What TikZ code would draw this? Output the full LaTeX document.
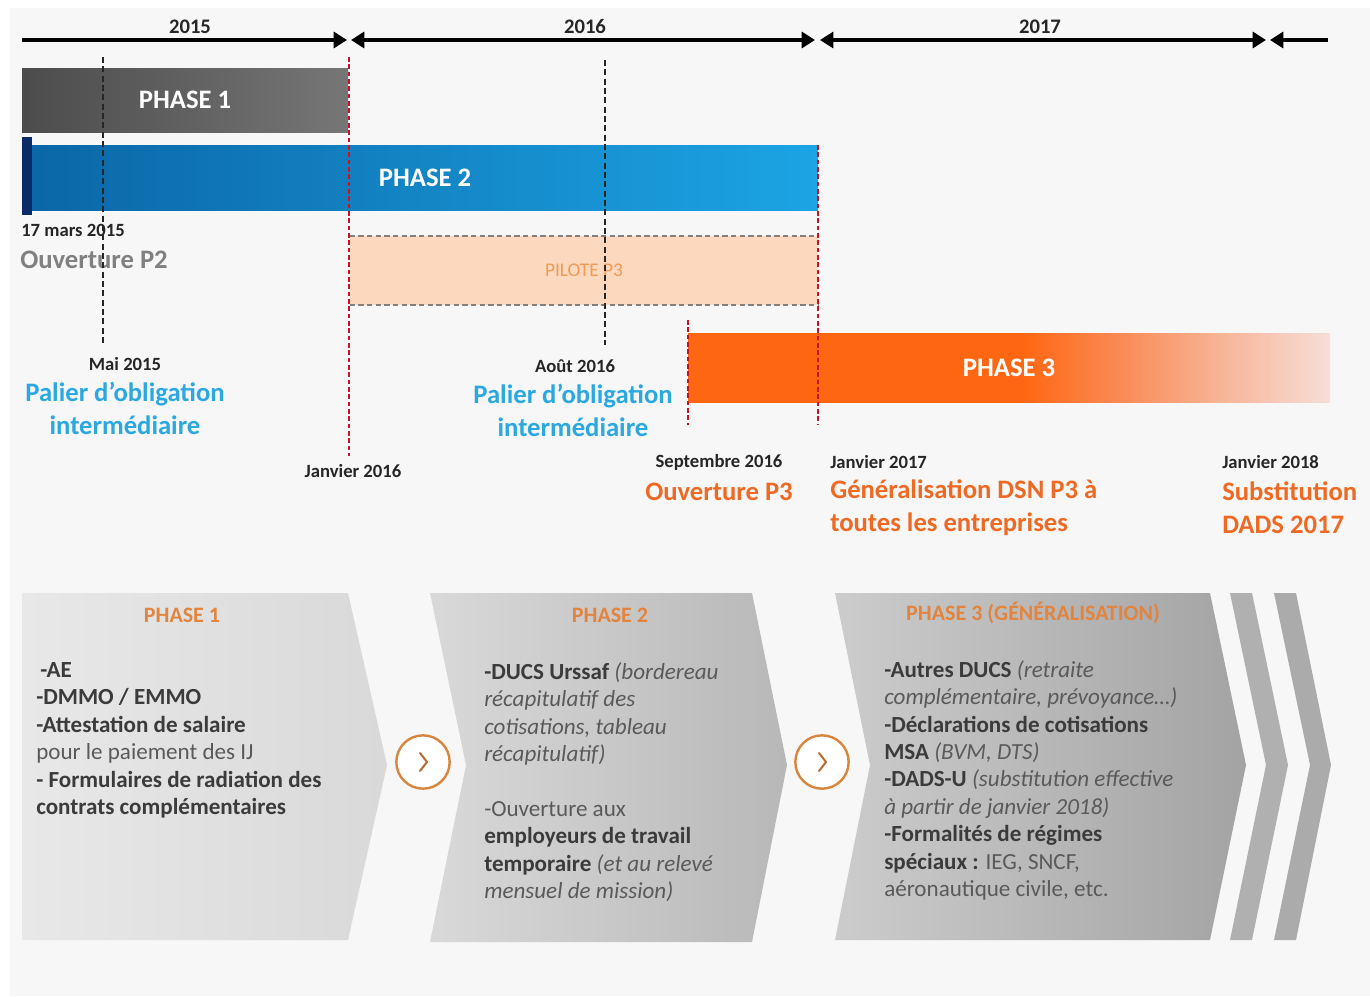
\documentclass[tikz,border=0pt]{standalone}
\usepackage{fontspec}
\setmainfont{Carlito}
\usetikzlibrary{arrows.meta}
\definecolor{bg}{HTML}{F7F7F7}
\definecolor{ph1l}{HTML}{4C4C4C}
\definecolor{ph1r}{HTML}{767676}
\definecolor{ph2l}{HTML}{0B66A6}
\definecolor{ph2r}{HTML}{1CA4E4}
\definecolor{navy}{HTML}{0A2C66}
\definecolor{ph3o}{HTML}{FF6612}
\definecolor{ph3m}{HTML}{F98C58}
\definecolor{ph3l}{HTML}{F7B79C}
\definecolor{ph3p}{HTML}{F6DED7}
\definecolor{peach}{HTML}{FCD8BE}
\definecolor{pilotc}{HTML}{F09A55}
\definecolor{dk}{HTML}{262626}
\definecolor{blu}{HTML}{2BA8E0}
\definecolor{ora}{HTML}{EE6A24}
\definecolor{gry}{HTML}{808080}
\definecolor{redd}{HTML}{C8141E}
\definecolor{ttl}{HTML}{E3843E}
\definecolor{bd}{HTML}{3B3B3B}
\definecolor{rg}{HTML}{5A5A5A}
\definecolor{circ}{HTML}{D8853E}
\definecolor{circin}{HTML}{B86A30}
\pgfdeclarehorizontalshading{phthree}{100bp}{color(0bp)=(ph3o); color(25bp)=(ph3o); color(51bp)=(ph3o); color(59bp)=(ph3m); color(67bp)=(ph3l); color(75bp)=(ph3p); color(100bp)=(ph3p)}
\tikzset{
  bar/.style={inner sep=0pt, text=white, font=\fontsize{20}{24}\selectfont\bfseries},
  date/.style={inner sep=0pt, text=dk, font=\fontsize{14}{16}\selectfont\bfseries},
  yearlbl/.style={inner sep=0pt, text=dk, font=\fontsize{15.5}{17}\selectfont\bfseries},
  big/.style={inner sep=0pt, font=\fontsize{20}{24.75}\selectfont\bfseries},
  tline/.style={line width=3.4pt, black},
  blackdash/.style={line width=1.6pt, black!85, dash pattern=on 4.5pt off 2.5pt},
  reddash/.style={line width=1.5pt, redd, dash pattern=on 3.5pt off 2pt},
  chtitle/.style={inner sep=0pt, text=ttl, font=\fontsize{16.5}{18}\selectfont\bfseries},
  body/.style={inner sep=0pt, anchor=north west, align=left, text=rg, font=\fontsize{17.3}{20.6}\selectfont},
  circbtn/.style={circle, draw=circ, line width=1.8pt, fill=white, minimum size=40pt, inner sep=0pt},
  chev/.style={line width=1.5pt, circin, line cap=round, line join=round}
}
\newcommand{\bb}[1]{\textcolor{bd}{\bfseries #1}}
\begin{document}
\begin{tikzpicture}[x=0.75pt,y=-0.75pt]
\useasboundingbox (0,0) rectangle (1370,996);
\fill[white] (0,0) rectangle (1370,996);
\fill[bg] (10,8) rectangle (1370,996);

% timeline
\coordinate (t0) at (22,40);
\coordinate (t1) at (347,40);
\coordinate (t2) at (351,40);
\coordinate (t3) at (815,40);
\coordinate (t4) at (820,40);
\coordinate (t5) at (1266,40);
\coordinate (t6) at (1270,40);
\coordinate (t7) at (1328,40);
\draw[tline, -{Triangle[width=12pt,length=10pt]}] (t0) -- (t1);
\draw[tline, {Triangle[width=12pt,length=10pt]}-{Triangle[width=12pt,length=10pt]}] (t2) -- (t3);
\draw[tline, {Triangle[width=12pt,length=10pt]}-{Triangle[width=12pt,length=10pt]}] (t4) -- (t5);
\draw[tline, {Triangle[width=12pt,length=10pt]}-] (t6) -- (t7);
\node[yearlbl] (y15) at (190,27) {2015};
\node[yearlbl] (y16) at (585,27) {2016};
\node[yearlbl] (y17) at (1040,27) {2017};

% bars
\node[bar, left color=ph1l, right color=ph1r, minimum width=244.5pt, minimum height=48pt] (ph1) at (185,100) {PHASE 1};
\node[bar, left color=ph2l, right color=ph2r, minimum width=597pt, minimum height=48.75pt] (ph2) at (420,177.5) {\hspace*{7.5pt}PHASE 2};
\node[fill=navy, inner sep=0pt, minimum width=7.5pt, minimum height=58.5pt] (nav) at (27,176) {};
\node[fill=peach, inner sep=0pt, minimum width=351pt, minimum height=51.75pt, text=pilotc, font=\fontsize{14.5}{16}\selectfont] (pil) at (584,270.5) {PILOTE P3};
\draw[line width=1.2pt, gray, dash pattern=on 4pt off 2.5pt] (pil.north west) -- (pil.north east);
\draw[line width=1.2pt, gray, dash pattern=on 4pt off 2.5pt] (pil.south west) -- (pil.south east);
\node[bar, shading=phthree, minimum width=481.5pt, minimum height=51.75pt] (ph3) at (1009,367.5) {PHASE 3};

% labels
\node[date, anchor=west] (d1) at (21,230) {17 mars 2015};
\node[big, anchor=west, text=gry] (o2) at (20,260) {Ouverture P2};
\node[date] (d2) at (125,364) {Mai 2015};
\node[big, text=blu, align=center] (pal1) at (125,408.5) {Palier d’obligation\\intermédiaire};
\node[date] (d3) at (353,471) {Janvier 2016};
\node[date] (d4) at (575,366) {Août 2016};
\node[big, text=blu, align=center] (pal2) at (573,410.5) {Palier d’obligation\\intermédiaire};
\node[date] (d5) at (719,462) {Septembre 2016};
\node[big, text=ora] (o3) at (719,492) {Ouverture P3};
\node[date, anchor=west] (d6) at (830,462) {Janvier 2017};
\node[big, text=ora, align=left, anchor=west] (gen) at (830,508) {Généralisation DSN P3 à\\toutes les entreprises};
\node[date, anchor=west] (d7) at (1222,462) {Janvier 2018};
\node[big, text=ora, align=left, anchor=west] (sub) at (1222,508) {Substitution\\DADS 2017};

% milestone lines
\coordinate (m1t) at (103,57);  \coordinate (m1b) at (103,345);
\coordinate (m2t) at (605,60);  \coordinate (m2b) at (605,345);
\coordinate (r1t) at (349,57);  \coordinate (r1b) at (349,456);
\coordinate (r2t) at (818,145); \coordinate (r2b) at (818,425);
\coordinate (r3t) at (688,320); \coordinate (r3b) at (688,425);
\draw[blackdash] (m1t) -- (m1b);
\draw[blackdash] (m2t) -- (m2b);
\draw[reddash] (r1t) -- (r1b);
\draw[reddash] (r2t) -- (r2b);
\draw[reddash] (r3t) -- (r3b);

% chevrons
\shade[left color=black!9, right color=black!15] (22,593) -- (348,593) -- (387,765) -- (348,940) -- (22,940) -- cycle;
\shade[left color=black!15, right color=black!28] (430,593) -- (752,593) -- (787,765) -- (752,942) -- (430,942) -- (466,765) -- cycle;
\shade[left color=black!20, right color=black!36] (835,593) -- (1210,593) -- (1246,765) -- (1210,940) -- (835,940) -- (870,765) -- cycle;
\fill[black!31] (1230,593) -- (1252,593) -- (1288,765) -- (1252,940) -- (1230,940) -- (1266,765) -- cycle;
\fill[black!33] (1274,593) -- (1296,593) -- (1331,765) -- (1296,940) -- (1274,940) -- (1310,765) -- cycle;

\node[circbtn] (c1) at (423,762) {};
\node[circbtn] (c2) at (822,762) {};
\draw[chev] ([shift={(-3,-9)}]c1.center) -- ([shift={(4,0)}]c1.center) -- ([shift={(-3,9)}]c1.center);
\draw[chev] ([shift={(-3,-9)}]c2.center) -- ([shift={(4,0)}]c2.center) -- ([shift={(-3,9)}]c2.center);

\node[chtitle] (h1) at (182,615) {PHASE 1};
\node[chtitle] (h2) at (610,615) {PHASE 2};
\node[chtitle] (h3) at (1033,613) {PHASE 3 (GÉNÉRALISATION)};

\node[body] (b1) at (36,662) {\hspace*{3pt}\bb{-AE}\\
\bb{-DMMO / EMMO}\\
\bb{-Attestation de salaire}\\
pour le paiement des IJ\\
\bb{- Formulaires de radiation des}\\
\bb{contrats complémentaires}};

\node[body] (b2) at (484,662) {\bb{-DUCS Urssaf} \textit{(bordereau}\\
\textit{récapitulatif des}\\
\textit{cotisations, tableau}\\
\textit{récapitulatif)}\\[20.6pt]
-Ouverture aux\\
\bb{employeurs de travail}\\
\bb{temporaire} \textit{(et au relevé}\\
\textit{mensuel de mission)}};

\node[body] (b3) at (884,660) {\bb{-Autres DUCS} \textit{(retraite}\\
\textit{complémentaire, prévoyance…)}\\
\bb{-Déclarations de cotisations}\\
\bb{MSA} \textit{(BVM, DTS)}\\
\bb{-DADS-U} \textit{(substitution effective}\\
\textit{à partir de janvier 2018)}\\
\bb{-Formalités de régimes}\\
\bb{spéciaux :} IEG, SNCF,\\
aéronautique civile, etc.};
\end{tikzpicture}
\end{document}
